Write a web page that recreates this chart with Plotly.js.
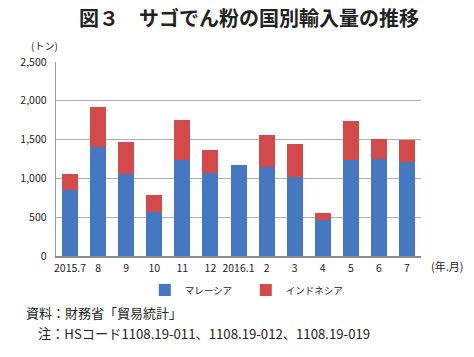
<!DOCTYPE html>
<html>
<head>
<meta charset="utf-8">
<script src="https://cdn.plot.ly/plotly-3.0.1.min.js"></script>
<style>html,body{margin:0;padding:0;background:#fff;}#chart{width:474px;height:357px;}</style>
</head>
<body>
<div id="chart"></div>
<script>
const categories = ["2015.7","8","9","10","11","12","2016.1","2","3","4","5","6","7"];
const malaysia = [849,1405,1060,569,1233,1073,1177,1142,1013,466,1233,1254,1211];
const indonesia = [203,509,410,211,526,293,0,414,435,86,513,250,289];
const seriesNames = ["マレーシア","インドネシア"];
const yTicks = [0,500,1000,1500,2000,2500];
const yTickText = ["0","500","1,000","1,500","2,000","2,500"];

const jp = '"Noto Sans CJK JP", "Noto Sans", sans-serif';
const narrow = '"Liberation Sans Narrow", "Noto Sans CJK JP", sans-serif';

const traces = [
  {type:'bar', name:seriesNames[0], x:categories, y:malaysia, marker:{color:'#4677c1'}},
  {type:'bar', name:seriesNames[1], x:categories, y:indonesia, marker:{color:'#d24a4a'}}
];

const layout = {
  width:474, height:357,
  margin:{l:56, r:53, t:62, b:101},
  paper_bgcolor:'#fff', plot_bgcolor:'#fff',
  barmode:'stack', bargap:0.43,
  showlegend:true,
  legend:{orientation:'h', traceorder:'normal', x:0.52, xanchor:'center', y:-0.1, yanchor:'top',
          font:{family:jp, size:9.5, color:'#222'}, itemwidth:30, entrywidth:56, entrywidthmode:'pixels', tracegroupgap:0},
  xaxis:{type:'category', showgrid:false, showline:true, linecolor:'#8c8c8c', linewidth:1.5,
         ticks:'', ticklabelstandoff:2, tickfont:{family:narrow, size:10.5, color:'#222'}, fixedrange:true},
  yaxis:{range:[0,2500], tickvals:yTicks, ticktext:yTickText, showgrid:true, gridcolor:'#b0b0b0', gridwidth:1.3,
         showline:true, linecolor:'#9a9a9a', linewidth:1.3, zeroline:false, ticks:'', ticklabelstandoff:6,
         tickfont:{family:narrow, size:10.5, color:'#222'}, fixedrange:true},
  annotations:[
    {text:'<b>図３　サゴでん粉の国別輸入量の推移</b>', xref:'paper', yref:'paper', x:0.5, y:1, xshift:10, yshift:45,
     showarrow:false, font:{family:jp, size:20, color:'#222'}, xanchor:'center', yanchor:'middle'},
    {text:'(トン)', xref:'paper', yref:'paper', x:0, y:1, xshift:-12, yshift:17, showarrow:false,
     font:{family:narrow, size:10, color:'#222'}, xanchor:'center', yanchor:'middle'},
    {text:'(年.月)', xref:'paper', yref:'paper', x:1, y:0, xshift:26, yshift:-10, showarrow:false,
     font:{family:jp, size:11, color:'#222'}, xanchor:'center', yanchor:'middle'},
    {text:'資料：財務省「貿易統計」', xref:'paper', yref:'paper', x:0, y:0, xshift:-32, yshift:-56, showarrow:false,
     font:{family:jp, size:13, color:'#222'}, xanchor:'left', yanchor:'middle'},
    {text:'注：HSコード1108.19-011、1108.19-012、1108.19-019', xref:'paper', yref:'paper', x:0, y:0, xshift:-20, yshift:-77, showarrow:false,
     font:{family:jp, size:13.2, color:'#222'}, xanchor:'left', yanchor:'middle'}
  ]
};

Plotly.newPlot('chart', traces, layout, {displayModeBar:false, staticPlot:true});
</script>
</body>
</html>
